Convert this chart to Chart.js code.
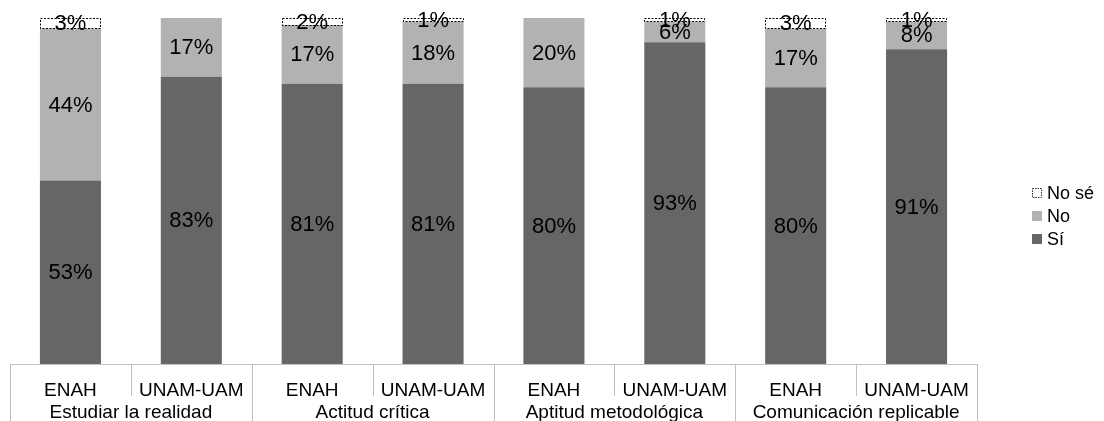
<!DOCTYPE html>
<html>
<head>
<meta charset="utf-8">
<script src="https://cdn.jsdelivr.net/npm/chart.js@4/dist/chart.umd.min.js"></script>
<style>
  body { margin: 0; background: #fff; }
  canvas { display: block; }
</style>
</head>
<body>
<canvas id="chart" width="1104" height="421"></canvas>
<script>
const groups = ["Estudiar la realidad", "Actitud crítica", "Aptitud metodológica", "Comunicación replicable"];
const categories = ["ENAH", "UNAM-UAM", "ENAH", "UNAM-UAM", "ENAH", "UNAM-UAM", "ENAH", "UNAM-UAM"];

const si = [53, 83, 81, 81, 80, 93, 80, 91];
const no = [44, 17, 17, 18, 20, 6, 17, 8];
const noSe = [3, 0, 2, 1, 0, 1, 3, 1];

const FONT = "'Liberation Sans', Arial, sans-serif";

// labels inside bars, dashed box for "No sé", legend and two-level x axis
const extras = {
  id: "extras",
  afterDatasetsDraw(chart) {
    const ctx = chart.ctx;
    ctx.save();
    // dashed outline for No sé
    const nsMeta = chart.getDatasetMeta(2);
    nsMeta.data.forEach((bar, i) => {
      if (!noSe[i]) return;
      const w = bar.width;
      ctx.strokeStyle = "#000";
      ctx.lineWidth = 1;
      ctx.setLineDash([2, 1.5]);
      ctx.strokeRect(Math.round(bar.x - w / 2) + 0.5, Math.round(bar.y) + 0.5, Math.round(w) - 1, Math.round(bar.base - bar.y));
    });
    ctx.setLineDash([]);
    // value labels
    ctx.font = "22px " + FONT;
    ctx.fillStyle = "#000";
    ctx.textAlign = "center";
    ctx.textBaseline = "middle";
    chart.data.datasets.forEach((ds, d) => {
      chart.getDatasetMeta(d).data.forEach((bar, i) => {
        const v = ds.data[i];
        if (!v) return;
        ctx.fillText(v + "%", bar.x, (bar.y + bar.base) / 2 + 1);
      });
    });
    ctx.restore();
  },
  afterDraw(chart) {
    const ctx = chart.ctx;
    const xs = chart.scales.x;
    const area = chart.chartArea;
    const step = (area.right - area.left) / categories.length;
    ctx.save();
    ctx.strokeStyle = "#c0c0c0";
    ctx.lineWidth = 1;
    // axis line
    ctx.beginPath();
    ctx.moveTo(area.left, area.bottom + 0.5);
    ctx.lineTo(area.right, area.bottom + 0.5);
    ctx.stroke();
    // separators
    for (let i = 0; i <= categories.length; i++) {
      const x = Math.round(xs.getPixelForValue(0) - step / 2 + i * step) + 0.5;
      const bottom = i % 2 === 0 ? chart.height : area.bottom + 32;
      ctx.beginPath();
      ctx.moveTo(x, area.bottom);
      ctx.lineTo(x, bottom);
      ctx.stroke();
    }
    ctx.fillStyle = "#000";
    ctx.textAlign = "center";
    ctx.textBaseline = "alphabetic";
    ctx.font = "19px " + FONT;
    categories.forEach((c, i) => {
      ctx.fillText(c, xs.getPixelForValue(i), area.bottom + 32);
    });
    groups.forEach((g, k) => {
      const x = (xs.getPixelForValue(2 * k) + xs.getPixelForValue(2 * k + 1)) / 2;
      ctx.fillText(g, x, area.bottom + 54);
    });
    // legend
    ctx.textAlign = "left";
    ctx.textBaseline = "middle";
    ctx.font = "18px " + FONT;
    const items = chart.data.datasets.slice().reverse();
    items.forEach((ds, k) => {
      const y = 193 + k * 23;
      if (ds.dashed) {
        ctx.fillStyle = "#fff";
        ctx.fillRect(1032, y - 5, 10, 10);
        ctx.strokeStyle = "#333";
        ctx.setLineDash([1.5, 1]);
        ctx.strokeRect(1032.5, y - 4.5, 9, 9);
        ctx.setLineDash([]);
      } else {
        ctx.fillStyle = ds.backgroundColor;
        ctx.fillRect(1032, y - 5, 10, 10);
      }
      ctx.fillStyle = "#000";
      ctx.fillText(ds.label, 1047, y + 1);
    });
    ctx.restore();
  }
};

new Chart(document.getElementById("chart"), {
  type: "bar",
  data: {
    labels: categories,
    datasets: [
      { label: "Sí", data: si, backgroundColor: "#666666" },
      { label: "No", data: no, backgroundColor: "#b2b2b2" },
      { label: "No sé", data: noSe, backgroundColor: "#ffffff", dashed: true }
    ]
  },
  options: {
    responsive: false,
    animation: false,
    layout: { padding: { left: 10, right: 127, top: 18, bottom: 57 } },
    datasets: { bar: { barPercentage: 0.505, categoryPercentage: 1, borderWidth: 0 } },
    plugins: { legend: { display: false }, tooltip: { enabled: false } },
    scales: {
      x: { stacked: true, display: false },
      y: { stacked: true, display: false, min: 0, max: 100 }
    }
  },
  plugins: [extras]
});
</script>
</body>
</html>
